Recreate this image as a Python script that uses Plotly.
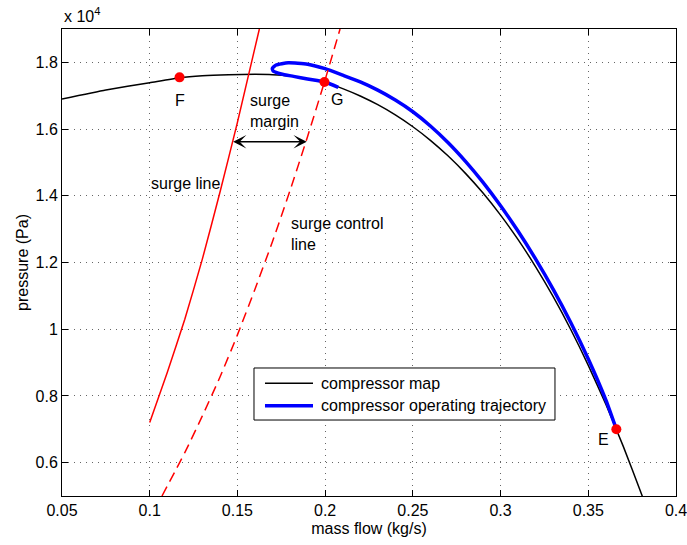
import plotly.graph_objects as go

# ---- data ----
map_x = [0.05, 0.075, 0.1, 0.117, 0.13, 0.145, 0.16, 0.17, 0.18, 0.19, 0.2, 0.21, 0.22, 0.23,
         0.24, 0.25, 0.26, 0.27, 0.28, 0.29, 0.3, 0.31, 0.32, 0.33, 0.34, 0.35, 0.36, 0.37, 0.38, 0.382]
map_p = [16900, 17170, 17390, 17540, 17600, 17630, 17640, 17630, 17590, 17500, 17400, 17214, 16992, 16731,
         16425, 16070, 15663, 15198, 14672, 14081, 13420, 12685, 11871, 10975, 9992, 8918, 7749, 6480, 5107, 4819]

traj_x = [0.2075, 0.2, 0.19, 0.182, 0.175, 0.1705, 0.1699, 0.172, 0.179, 0.19, 0.2, 0.21, 0.22, 0.23,
          0.24, 0.25, 0.26, 0.27, 0.28, 0.29, 0.3, 0.31, 0.32, 0.33, 0.34, 0.35, 0.36, 0.366]
traj_p = [17250, 17410, 17500, 17580, 17650, 17730, 17820, 17920, 17985, 17945, 17810, 17614, 17412, 17166,
          16870, 16520, 16093, 15598, 15032, 14401, 13700, 12935, 12101, 11195, 10202, 9108, 7879, 7000]

surge_x = [0.1, 0.11, 0.12, 0.13, 0.14, 0.15, 0.1625]
surge_p = [7200, 8700, 10300, 12100, 14100, 16200, 19000]

ctrl_x = [0.107, 0.12, 0.13, 0.14, 0.15, 0.16, 0.17, 0.18, 0.19, 0.2, 0.2085]
ctrl_p = [5000, 6300, 7400, 8560, 9830, 11200, 12630, 14160, 15780, 17480, 19000]

pts_x = [0.117, 0.1996, 0.366]
pts_p = [17550, 17410, 7000]
pts_label = ["F", "G", "E"]
label_x = [0.117, 0.2065, 0.3585]
label_p = [16870, 16900, 6700]

margin_y = 15620
margin_x0 = 0.1467
margin_x1 = 0.1895

legend_names = ["compressor map", "compressor operating trajectory"]
legend_colors = ["black", "#0000ff"]
legend_widths = [1.5, 3.5]

xtick_vals = [0.05, 0.1, 0.15, 0.2, 0.25, 0.3, 0.35, 0.4]
xtick_text = ["0.05", "0.1", "0.15", "0.2", "0.25", "0.3", "0.35", "0.4"]
ytick_vals = [6000, 8000, 10000, 12000, 14000, 16000, 18000]
ytick_text = ["0.6", "0.8", "1", "1.2", "1.4", "1.6", "1.8"]

FONT = "Liberation Sans, Arial, Helvetica, sans-serif"
FS = 16
tfont = dict(size=FS, color="black", family=FONT)

fig = go.Figure()
fig.add_trace(go.Scatter(x=map_x, y=map_p, mode="lines", name=legend_names[0], showlegend=False,
                         line=dict(color=legend_colors[0], width=legend_widths[0], shape="spline", smoothing=0.5)))
fig.add_trace(go.Scatter(x=traj_x, y=traj_p, mode="lines", name=legend_names[1], showlegend=False,
                         line=dict(color=legend_colors[1], width=legend_widths[1], shape="spline", smoothing=0.5)))
fig.add_trace(go.Scatter(x=surge_x, y=surge_p, mode="lines", showlegend=False,
                         line=dict(color="#ff0000", width=1.5, shape="spline", smoothing=0.5)))
fig.add_trace(go.Scatter(x=ctrl_x, y=ctrl_p, mode="lines", showlegend=False,
                         line=dict(color="#ff0000", width=1.5, dash="10px,6px", shape="spline", smoothing=0.5)))
fig.add_trace(go.Scatter(x=pts_x, y=pts_p, mode="markers", showlegend=False,
                         marker=dict(color="#ff0000", size=10, line=dict(width=0))))

for lx, lp, t in zip(label_x, label_p, pts_label):
    fig.add_annotation(x=lx, y=lp, text=t, showarrow=False, font=tfont)

fig.add_annotation(x=0.156, y=16540, text="surge<br>margin", showarrow=False, xanchor="left", align="left",
                   font=tfont)
fig.add_annotation(x=0.0998, y=14373, text="surge line", showarrow=False, xanchor="left", font=tfont)
fig.add_annotation(x=0.1796, y=12860, text="surge control<br>line", showarrow=False, xanchor="left", align="left",
                   font=tfont)

fig.add_annotation(x=margin_x1, y=margin_y, ax=margin_x0, ay=margin_y, axref="x", ayref="y",
                   text="", showarrow=True, arrowside="end+start", arrowhead=3, arrowsize=1.7,
                   arrowwidth=1.3, arrowcolor="black", standoff=0, startstandoff=0)

fig.add_annotation(x=0, y=1, xref="paper", yref="paper", xanchor="left", yanchor="bottom",
                   text="x 10<sup>4</sup>", showarrow=False, yshift=2, font=tfont)

# legend box drawn in paper coordinates
box = dict(x0=0.3127, x1=0.8029, y0=0.1627, y1=0.2741)
fig.add_shape(type="rect", xref="paper", yref="paper", **box,
              line=dict(color="black", width=1), fillcolor="white", layer="above")
row_y = [0.2413, 0.1934]
for ry, name, col, w in zip(row_y, legend_names, legend_colors, legend_widths):
    fig.add_shape(type="line", xref="paper", yref="paper", x0=0.3306, x1=0.4088, y0=ry, y1=ry,
                  line=dict(color=col, width=w), layer="above")
    fig.add_annotation(x=0.4186, y=ry, xref="paper", yref="paper", xanchor="left", yanchor="middle",
                       text=name, showarrow=False, font=tfont)

axis_common = dict(showline=True, linecolor="black", linewidth=1, mirror="ticks", ticks="inside",
                   ticklen=6, tickcolor="black", showgrid=True, gridcolor="#666666", griddash="1px,5px",
                   gridwidth=1, zeroline=False, tickfont=tfont, ticklabeloverflow="allow")

fig.update_xaxes(range=[0.05, 0.4], tickvals=xtick_vals, ticktext=xtick_text,
                 title=dict(text="mass flow (kg/s)", font=tfont, standoff=4), **axis_common)
fig.update_yaxes(range=[5000, 19000], tickvals=ytick_vals, ticktext=ytick_text,
                 title=dict(text="pressure (Pa)", font=tfont, standoff=2), **axis_common)

fig.update_layout(width=687, height=545, margin=dict(l=62, r=11, t=29, b=49, autoexpand=False),
                  plot_bgcolor="white", paper_bgcolor="white", showlegend=False,
                  font=dict(family=FONT))

fig.write_html("out.html")
